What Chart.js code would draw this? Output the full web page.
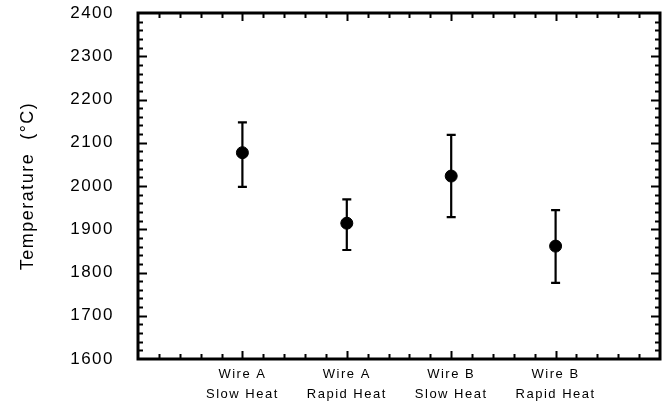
<!DOCTYPE html>
<html lang="en">
<head>
<meta charset="UTF-8" />
<title>Temperature by wire and heating rate</title>
<script src="https://cdn.jsdelivr.net/npm/chart.js"></script>
<style>
  html, body { margin: 0; padding: 0; background: #fff; }
  #wrap { width: 670px; height: 403px; }
</style>
</head>
<body>
<div id="wrap"><canvas id="tempChart" width="670" height="403"></canvas></div>
<script>
// data
var conditions = [["Wire A", "Slow Heat"], ["Wire A", "Rapid Heat"], ["Wire B", "Slow Heat"], ["Wire B", "Rapid Heat"]];
var positions = [1, 2, 3, 4];
var meanTemp = [2077, 1914, 2023, 1861];
var upperTemp = [2147, 1969, 2118, 1944];
var lowerTemp = [1998, 1852, 1928, 1776];
var yTicks = [1600, 1700, 1800, 1900, 2000, 2100, 2200, 2300, 2400];

var points = positions.map(function (p, i) { return { x: p, y: meanTemp[i] }; });

// letter spacing to get the wide old-style lettering
var spacing = {
  id: 'spacing',
  beforeDraw: function (chart) { chart.ctx.letterSpacing = '1.5px'; }
};

// error bars, drawn from the scales
var errorBars = {
  id: 'errorBars',
  afterDatasetsDraw: function (chart) {
    var ctx = chart.ctx, xs = chart.scales.x, ys = chart.scales.y;
    ctx.save();
    ctx.strokeStyle = '#000';
    ctx.lineWidth = 2.2;
    positions.forEach(function (p, i) {
      var x = xs.getPixelForValue(p);
      var yt = ys.getPixelForValue(upperTemp[i]);
      var yb = ys.getPixelForValue(lowerTemp[i]);
      ctx.beginPath();
      ctx.moveTo(x, yt); ctx.lineTo(x, yb);
      ctx.moveTo(x - 4.5, yt); ctx.lineTo(x + 4.5, yt);
      ctx.moveTo(x - 4.5, yb); ctx.lineTo(x + 4.5, yb);
      ctx.stroke();
    });
    ctx.restore();
  }
};

// inward ticks on all four sides
var inTicks = {
  id: 'inTicks',
  afterDraw: function (chart) {
    var ctx = chart.ctx, a = chart.chartArea, xs = chart.scales.x, ys = chart.scales.y;
    ctx.save();
    ctx.strokeStyle = '#000';
    ctx.lineWidth = 2;
    ctx.beginPath();
    xs.ticks.forEach(function (t) {
      var v = t.value;
      if (v <= xs.min + 1e-6 || v >= xs.max - 1e-6) return;
      var major = Math.abs(v - Math.round(v)) < 1e-6;
      var len = major ? 8 : 5;
      var x = Math.round(xs.getPixelForValue(v)) + 0.5;
      ctx.moveTo(x, a.bottom); ctx.lineTo(x, a.bottom - len);
      ctx.moveTo(x, a.top); ctx.lineTo(x, a.top + len);
    });
    ys.ticks.forEach(function (t) {
      var v = t.value;
      if (v <= ys.min + 1e-6 || v >= ys.max - 1e-6) return;
      var major = Math.abs(v % 100) < 1e-6;
      var len = major ? 9 : 5;
      var y = Math.round(ys.getPixelForValue(v)) + 0.5;
      ctx.moveTo(a.left, y); ctx.lineTo(a.left + len, y);
      ctx.moveTo(a.right, y); ctx.lineTo(a.right - len, y);
    });
    ctx.stroke();
    ctx.lineWidth = 3;
    ctx.strokeRect(a.left, a.top, a.right - a.left, a.bottom - a.top);
    ctx.restore();
  }
};

new Chart(document.getElementById('tempChart'), {
  type: 'scatter',
  data: {
    datasets: [{
      data: points,
      backgroundColor: '#000',
      borderColor: '#000',
      pointRadius: 6,
      pointHoverRadius: 6
    }]
  },
  options: {
    responsive: false,
    animation: false,
    events: [],
    layout: { padding: { left: 0, right: 10, top: 13, bottom: 0 } },
    plugins: { legend: { display: false }, tooltip: { enabled: false } },
    scales: {
      x: {
        type: 'linear',
        min: 0,
        max: 5,
        afterFit: function (s) { s.height = 44; s.paddingLeft = 0; s.paddingRight = 0; },
        border: { display: false },
        grid: { display: false, drawTicks: false },
        ticks: {
          stepSize: 0.2,
          autoSkip: false,
          maxRotation: 0,
          padding: 6,
          color: '#000',
          font: { family: 'Liberation Sans, Arial, sans-serif', size: 13, lineHeight: 1.5 },
          callback: function (v) {
            var i = positions.indexOf(Math.round(v * 1000) / 1000);
            return i >= 0 ? conditions[i] : '';
          }
        }
      },
      y: {
        min: 1600,
        max: 2400,
        afterFit: function (s) { s.width = 138; s.paddingTop = 0; s.paddingBottom = 0; },
        border: { display: false },
        grid: { display: false, drawTicks: false },
        title: {
          display: true,
          text: 'Temperature  (°C)',
          color: '#000',
          font: { family: 'Liberation Sans, Arial, sans-serif', size: 18 },
          padding: { top: 17, bottom: 0 }
        },
        ticks: {
          stepSize: 20,
          autoSkip: false,
          padding: 24,
          color: '#000',
          font: { family: 'Liberation Sans, Arial, sans-serif', size: 17 },
          callback: function (v) { return yTicks.indexOf(v) >= 0 ? String(v) : ''; }
        }
      }
    }
  },
  plugins: [spacing, errorBars, inTicks]
});
</script>
</body>
</html>
